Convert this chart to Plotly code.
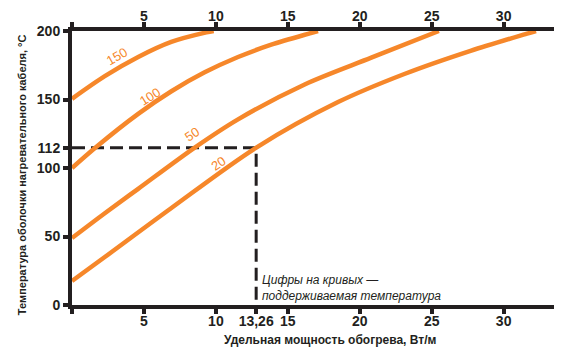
import plotly.graph_objects as go

# ---- data ----
power_150 = [0, 2.28, 4.6, 6.9, 9.34, 9.85]
temp_150 = [150.5, 167.0, 181.0, 192.0, 199.0, 200]

power_100 = [0, 1.70, 4.6, 6.91, 9.22, 11.54, 13.85, 16.6, 17.1]
temp_100 = [100, 115.5, 139.5, 156.0, 169.8, 181.0, 190.0, 198.5, 200]

power_50 = [0, 2.28, 4.6, 8.53, 11.54, 16.17, 20.8, 25.5]
temp_50 = [48.9, 67.0, 84.8, 114.9, 135.5, 161.0, 180.5, 200]

power_20 = [0, 2.28, 6.91, 12.81, 18.49, 23.1, 27.7, 31.7, 32.25]
temp_20 = [17.5, 35.0, 70.8, 114.9, 148.1, 168.6, 185.5, 198.3, 200]

curve_names = ["150", "100", "50", "20"]
curve_powers = [power_150, power_100, power_50, power_20]
curve_temps = [temp_150, temp_100, temp_50, temp_20]

# curve label placement (data coords) and angle
label_x = [3.1, 5.42, 8.32, 10.17]
label_y = [181.5, 152.3, 124.3, 103.6]
label_angle = [-30, -32, -33, -35]

# operating point guide (where the guide lines sit in the picture)
guide_x = 12.8
guide_y = 114.7
guide_x_label = "13,26"
guide_y_label = "112"

x_ticks_bottom = [0, 5, 10, guide_x, 15, 20, 25, 30]
x_text_bottom = ["", "5", "10", guide_x_label, "15", "20", "25", "30"]
x_ticks_top = [0, 5, 10, 15, 20, 25, 30]
x_text_top = ["", "5", "10", "15", "20", "25", "30"]
y_ticks = [0, 50, 100, guide_y, 150, 200]
y_text = ["0", "50", "100", guide_y_label, "150", "200"]

x_title = "Удельная мощность обогрева, Вт/м"
y_title = "Температура оболочки нагревательного кабеля, °С"
note = "Цифры на кривых —<br>поддерживаемая температура"

ORANGE = "#F6872A"
BLACK = "#231F20"
FONT = "Liberation Sans, Arial, sans-serif"

fig = go.Figure()

# guide lines
fig.add_trace(go.Scatter(x=[0, guide_x, guide_x], y=[guide_y, guide_y, 0],
                         mode="lines", line=dict(color=BLACK, width=3, dash="13px,6px"),
                         hoverinfo="skip", showlegend=False, cliponaxis=False))

for name, xs, ys in zip(curve_names, curve_powers, curve_temps):
    fig.add_trace(go.Scatter(x=xs, y=ys, mode="lines", name=name,
                             line=dict(color=ORANGE, width=4.5, shape="spline", smoothing=0.9),
                             showlegend=False))

# invisible trace on top axis
fig.add_trace(go.Scatter(x=[0, 33.5], y=[0, 0], xaxis="x2", mode="lines",
                         line=dict(width=0), hoverinfo="skip", showlegend=False))

for name, lx, ly, ang in zip(curve_names, label_x, label_y, label_angle):
    fig.add_annotation(x=lx, y=ly, text=name, showarrow=False, textangle=ang,
                       font=dict(family=FONT, size=13, color=ORANGE))

fig.add_annotation(x=13.1, y=12.4, text=note, showarrow=False, xanchor="left",
                   yanchor="middle", align="left",
                   font=dict(family=FONT, size=12, color=BLACK, style="italic"))

fig.add_annotation(x=0.535, xref="paper", y=-0.128, yref="paper", text=x_title,
                   xanchor="center", yanchor="middle",
                   showarrow=False, font=dict(family=FONT, size=12, color=BLACK, weight="bold"))

fig.add_annotation(x=-0.1037, xref="paper", y=0.474, yref="paper", text=y_title,
                   xanchor="center", yanchor="middle",
                   textangle=-90, showarrow=False,
                   font=dict(family=FONT, size=11, color=BLACK, weight="bold"))

axis_common = dict(showline=True, linewidth=4, linecolor=BLACK, ticks="outside",
                   ticklen=5, tickwidth=4, tickcolor=BLACK, showgrid=False, zeroline=False,
                   automargin=False,
                   tickfont=dict(family=FONT, size=14, color=BLACK, weight="bold"))

# page body has an 8px default margin, so the figure is sized to fit inside the window
fig.update_layout(
    width=559, height=352,
    margin=dict(l=64, r=13, t=23, b=55, autoexpand=False),
    paper_bgcolor="white", plot_bgcolor="white",
    xaxis=dict(range=[0, 33.5], tickmode="array", tickvals=x_ticks_bottom,
               ticktext=x_text_bottom, ticklabelstandoff=-5, **axis_common),
    xaxis2=dict(range=[0, 33.5], overlaying="x", side="top", tickmode="array",
                tickvals=x_ticks_top, ticktext=x_text_top, ticklabelstandoff=-5,
                **axis_common),
    yaxis=dict(range=[0, 200], tickmode="array", tickvals=y_ticks, ticktext=y_text,
               **axis_common),
    showlegend=False,
)

fig.write_html("out.html")
